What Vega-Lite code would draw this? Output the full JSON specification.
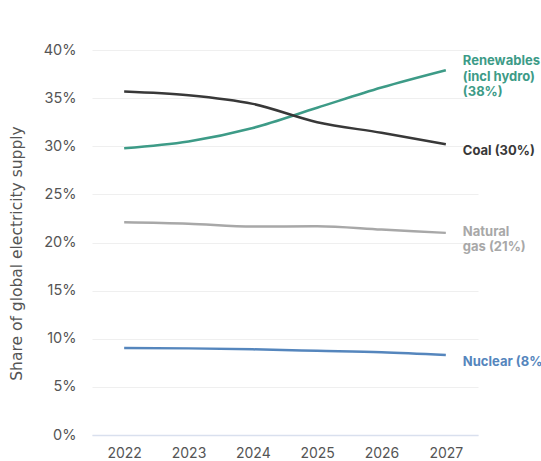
{
  "$schema": "https://vega.github.io/schema/vega-lite/v6.json",
  "width": 386,
  "height": 385,
  "autosize": "none",
  "padding": {"left": 92, "top": 50, "right": 63, "bottom": 26},
  "background": "white",
  "config": {
    "font": "Inter",
    "view": {"stroke": null},
    "text": {
      "align": "left",
      "baseline": "middle",
      "dx": 17,
      "fontSize": 13,
      "fontWeight": "bold",
      "lineBreak": "\n",
      "lineHeight": 15.5
    }
  },
  "data": {
    "values": [
      {"source": "Renewables", "year": 2022, "share": 29.8},
      {"source": "Renewables", "year": 2023, "share": 30.5},
      {"source": "Renewables", "year": 2024, "share": 31.9},
      {"source": "Renewables", "year": 2025, "share": 34.0},
      {"source": "Renewables", "year": 2026, "share": 36.1},
      {"source": "Renewables", "year": 2027, "share": 37.9, "label": "Renewables\n(incl hydro)\n(38%)"},
      {"source": "Coal", "year": 2022, "share": 35.7},
      {"source": "Coal", "year": 2023, "share": 35.3},
      {"source": "Coal", "year": 2024, "share": 34.4},
      {"source": "Coal", "year": 2025, "share": 32.5},
      {"source": "Coal", "year": 2026, "share": 31.4},
      {"source": "Coal", "year": 2027, "share": 30.2, "label": "Coal (30%)"},
      {"source": "Natural gas", "year": 2022, "share": 22.1},
      {"source": "Natural gas", "year": 2023, "share": 21.95},
      {"source": "Natural gas", "year": 2024, "share": 21.65},
      {"source": "Natural gas", "year": 2025, "share": 21.7},
      {"source": "Natural gas", "year": 2026, "share": 21.35},
      {"source": "Natural gas", "year": 2027, "share": 21.0, "label": "Natural\ngas (21%)"},
      {"source": "Nuclear", "year": 2022, "share": 9.05},
      {"source": "Nuclear", "year": 2023, "share": 9.0},
      {"source": "Nuclear", "year": 2024, "share": 8.9},
      {"source": "Nuclear", "year": 2025, "share": 8.75},
      {"source": "Nuclear", "year": 2026, "share": 8.6},
      {"source": "Nuclear", "year": 2027, "share": 8.32, "label": "Nuclear (8%)"}
    ]
  },
  "encoding": {
    "x": {
      "field": "year",
      "type": "ordinal",
      "scale": {"type": "point", "padding": 0.5},
      "axis": {
        "title": null,
        "labelAngle": 0,
        "labelFontSize": 14,
        "labelColor": "#555555",
        "labelPadding": 11,
        "ticks": false,
        "domainColor": "#d9e0ee",
        "domainWidth": 1.5,
        "grid": false
      }
    },
    "y": {
      "field": "share",
      "type": "quantitative",
      "scale": {"domain": [0, 40]},
      "axis": {
        "title": "Share of global electricity supply",
        "titleFont": "DejaVu Sans",
        "titleFontSize": 15.5,
        "titleFontWeight": "normal",
        "titleColor": "#555555",
        "titlePadding": 19,
        "titleY": 203,
        "values": [0, 5, 10, 15, 20, 25, 30, 35, 40],
        "labelExpr": "datum.value + '%'",
        "labelFontSize": 14.5,
        "labelColor": "#555555",
        "labelPadding": 16,
        "ticks": false,
        "domain": false,
        "gridColor": "#efefef",
        "gridWidth": 1
      }
    },
    "color": {
      "field": "source",
      "type": "nominal",
      "scale": {
        "domain": ["Renewables", "Coal", "Natural gas", "Nuclear"],
        "range": ["#3d9b87", "#383838", "#a8a8a8", "#5586bd"]
      },
      "legend": null
    }
  },
  "layer": [
    {
      "mark": {"type": "line", "strokeWidth": 2.5, "interpolate": "monotone"}
    },
    {
      "transform": [{"filter": "datum.year == 2027 && datum.source == 'Renewables'"}],
      "mark": {"type": "text", "dy": -9},
      "encoding": {"text": {"field": "label", "type": "nominal"}}
    },
    {
      "transform": [{"filter": "datum.year == 2027 && datum.source == 'Natural gas'"}],
      "mark": {"type": "text", "dy": -1},
      "encoding": {"text": {"field": "label", "type": "nominal"}}
    },
    {
      "transform": [{"filter": "datum.year == 2027 && (datum.source == 'Coal' || datum.source == 'Nuclear')"}],
      "mark": {"type": "text", "dy": 7},
      "encoding": {"text": {"field": "label", "type": "nominal"}}
    }
  ]
}
